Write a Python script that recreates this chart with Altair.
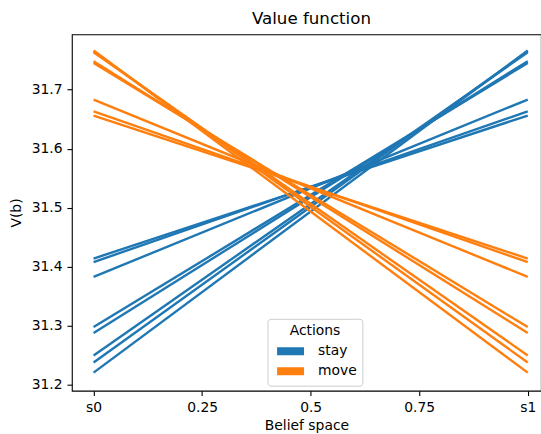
import altair as alt
import pandas as pd

# Value of each alpha-vector line at the two belief extremes
stay_s0 = [31.414, 31.408, 31.383, 31.298, 31.288, 31.250, 31.238, 31.221]
stay_s1 = [31.656, 31.663, 31.683, 31.745, 31.748, 31.763, 31.765, 31.766]
move_s0 = [31.656, 31.663, 31.683, 31.745, 31.748, 31.763, 31.765, 31.766]
move_s1 = [31.414, 31.408, 31.383, 31.298, 31.288, 31.250, 31.238, 31.221]

actions = ["stay", "move"]
colors = ["#1f77b4", "#ff7f0e"]
x_ticks = [0, 0.25, 0.5, 0.75, 1]
y_ticks = [31.2, 31.3, 31.4, 31.5, 31.6, 31.7]

rows = []
for i, (a, b) in enumerate(zip(stay_s0, stay_s1)):
    rows.append({"line": f"stay{i}", "action": "stay", "b": 0.0, "v": a, "ord": 0})
    rows.append({"line": f"stay{i}", "action": "stay", "b": 1.0, "v": b, "ord": 0})
for i, (a, b) in enumerate(zip(move_s0, move_s1)):
    rows.append({"line": f"move{i}", "action": "move", "b": 0.0, "v": a, "ord": 1})
    rows.append({"line": f"move{i}", "action": "move", "b": 1.0, "v": b, "ord": 1})
df = pd.DataFrame(rows)

FONT = "DejaVu Sans"

chart = alt.Chart(df).mark_line(strokeWidth=2.4, clip=True).encode(
    x=alt.X("b:Q",
            scale=alt.Scale(domain=[-0.05, 1.0305], nice=False, zero=False),
            axis=alt.Axis(title="Belief space", values=x_ticks,
                          labelExpr="datum.value == 0 ? 's0' : datum.value == 1 ? 's1' : toString(datum.value)",
                          titlePadding=4)),
    y=alt.Y("v:Q",
            scale=alt.Scale(domain=[31.1904, 31.7934], nice=False, zero=False),
            axis=alt.Axis(title="V(b)", values=y_ticks, format=".1f", titlePadding=8)),
    color=alt.Color("action:N",
                    scale=alt.Scale(domain=actions, range=colors),
                    legend=alt.Legend(title="Actions", orient="none", legendX=196, legendY=285,
                                      padding=5.6, fillColor="rgba(255,255,255,0.8)",
                                      strokeColor="#cccccc", cornerRadius=3,
                                      symbolType="stroke", symbolSize=729, symbolStrokeWidth=8,
                                      clipHeight=16, rowPadding=4, labelOffset=10,
                                      titleAnchor="middle", titleFontSize=13.9, titleFontWeight="normal",
                                      labelFontSize=13.9, labelFont=FONT, titleFont=FONT,
                                      labelColor="black", titleColor="black", titlePadding=5)),
    detail="line:N",
    order="ord:Q",
).properties(
    width=470, height=357,
    title=alt.TitleParams("Value function", fontSize=16.7, fontWeight="normal", font=FONT,
                          color="black", dx=5, offset=7),
    autosize=alt.AutoSizeParams(type="none"),
    padding={"left": 72, "top": 34, "right": 0, "bottom": 43},
).configure_view(
    stroke="black", strokeWidth=1.1
).configure_axis(
    grid=False, domain=False, tickColor="black", tickWidth=1.1, tickSize=4.9,
    labelFont=FONT, labelFontSize=13.9, labelColor="black", labelPadding=4.9,
    titleFont=FONT, titleFontSize=13.9, titleFontWeight="normal", titleColor="black"
)

chart.save("out.html", embed_options={"renderer": "svg", "actions": False})
